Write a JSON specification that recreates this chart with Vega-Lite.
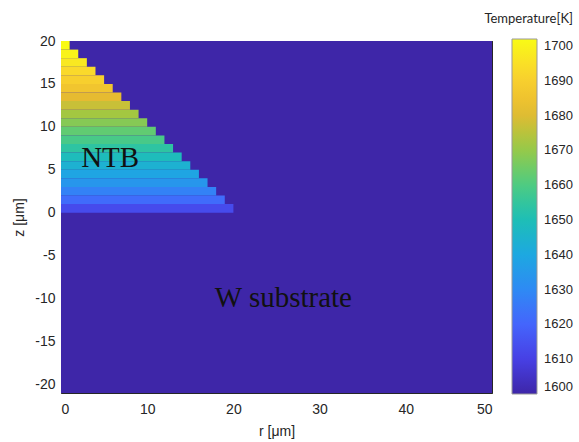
{
  "$schema": "https://vega.github.io/schema/vega-lite/v6.json",
  "width": 431,
  "height": 352,
  "autosize": {"type": "none"},
  "padding": {"left": 61, "top": 41, "right": 87, "bottom": 49},
  "background": "white",
  "config": {
    "view": {"stroke": null},
    "axis": {
      "labelFont": "Liberation Sans",
      "labelFontSize": 14,
      "labelColor": "#262626",
      "titleFont": "Liberation Sans",
      "titleFontSize": 14,
      "titleFontWeight": "normal",
      "titleColor": "#262626",
      "domainColor": "#262626",
      "tickColor": "#262626",
      "grid": false,
      "zindex": 1
    }
  },
  "layer": [
    {
      "data": {
        "values": [
          {"r0": 0, "r1": 50, "z0": -21, "z1": 20, "T": 1600},
          {"r0": 0, "r1": 20, "z0": 0, "z1": 1, "T": 1613},
          {"r0": 0, "r1": 19, "z0": 1, "z1": 2, "T": 1622},
          {"r0": 0, "r1": 18, "z0": 2, "z1": 3, "T": 1628},
          {"r0": 0, "r1": 17, "z0": 3, "z1": 4, "T": 1634},
          {"r0": 0, "r1": 16, "z0": 4, "z1": 5, "T": 1639},
          {"r0": 0, "r1": 15, "z0": 5, "z1": 6, "T": 1644},
          {"r0": 0, "r1": 14, "z0": 6, "z1": 7, "T": 1649},
          {"r0": 0, "r1": 13, "z0": 7, "z1": 8, "T": 1654},
          {"r0": 0, "r1": 12, "z0": 8, "z1": 9, "T": 1659},
          {"r0": 0, "r1": 11, "z0": 9, "z1": 10, "T": 1663},
          {"r0": 0, "r1": 10, "z0": 10, "z1": 11, "T": 1668},
          {"r0": 0, "r1": 9, "z0": 11, "z1": 12, "T": 1672},
          {"r0": 0, "r1": 8, "z0": 12, "z1": 13, "T": 1677},
          {"r0": 0, "r1": 7, "z0": 13, "z1": 14, "T": 1681},
          {"r0": 0, "r1": 6, "z0": 14, "z1": 15, "T": 1686},
          {"r0": 0, "r1": 5, "z0": 15, "z1": 16, "T": 1690},
          {"r0": 0, "r1": 4, "z0": 16, "z1": 17, "T": 1693},
          {"r0": 0, "r1": 3, "z0": 17, "z1": 18, "T": 1697},
          {"r0": 0, "r1": 2, "z0": 18, "z1": 19, "T": 1700},
          {"r0": 0, "r1": 1, "z0": 19, "z1": 20, "T": 1702}
        ]
      },
      "mark": {"type": "rect", "strokeWidth": 0},
      "encoding": {
        "x": {
          "field": "r0", "type": "quantitative",
          "scale": {"domain": [0, 50], "nice": false, "zero": false},
          "axis": {"title": "r [μm]", "values": [0, 10, 20, 30, 40, 50], "tickSize": -5, "labelPadding": 14, "titlePadding": 8, "domain": true, "labelExpr": "toString(datum.value)"}
        },
        "x2": {"field": "r1"},
        "y": {
          "field": "z0", "type": "quantitative",
          "scale": {"domain": [-21, 20], "nice": false, "zero": false},
          "axis": {"title": "z [μm]", "values": [-20, -15, -10, -5, 0, 5, 10, 15, 20], "tickSize": -5, "labelPadding": 11, "titlePadding": 8, "domain": true, "labelExpr": "toString(datum.value)"}
        },
        "y2": {"field": "z1"},
        "color": {
          "field": "T", "type": "quantitative",
          "scale": {
            "type": "linear",
            "domain": [1600, 1702],
            "range": ["#3E26A8", "#4741E5", "#4466FD", "#2D8CF3", "#1CAADF", "#1EC0B2", "#54CC7C", "#9FC842", "#EABA30", "#FAD42E", "#F9FB15"],
            "interpolate": "rgb"
          },
          "legend": {
            "orient": "none",
            "legendX": 423,
            "legendY": -28,
            "direction": "vertical",
            "title": "Temperature[K]",
            "titleAnchor": "end",
            "titleFont": "Lato",
            "titleFontSize": 13,
            "titleFontWeight": "normal",
            "titleColor": "#262626",
            "titlePadding": 13,
            "gradientLength": 355,
            "gradientThickness": 25,
            "gradientStrokeColor": "#999999",
            "gradientStrokeWidth": 1,
            "values": [1600, 1610, 1620, 1630, 1640, 1650, 1660, 1670, 1680, 1690, 1700],
            "format": "d",
            "labelFont": "Liberation Sans",
            "labelFontSize": 13,
            "labelColor": "#262626",
            "labelOffset": 7,
            "labelOverlap": false
          }
        }
      }
    },
    {
      "data": {
        "values": [
          {"r": 5.7, "z": 6.4, "label": "NTB"},
          {"r": 25.8, "z": -9.9, "label": "W substrate"}
        ]
      },
      "mark": {"type": "text", "font": "Liberation Serif", "fontSize": 29, "color": "#111111", "align": "center", "baseline": "middle"},
      "encoding": {
        "x": {"field": "r", "type": "quantitative", "axis": {"orient": "top", "labels": false, "title": null, "values": [0, 10, 20, 30, 40, 50], "tickSize": -5, "domain": true}},
        "y": {"field": "z", "type": "quantitative", "axis": {"orient": "right", "labels": false, "title": null, "values": [-20, -15, -10, -5, 0, 5, 10, 15, 20], "tickSize": -5, "domain": true}},
        "text": {"field": "label"}
      }
    }
  ],
  "resolve": {"axis": {"x": "independent", "y": "independent"}}
}
